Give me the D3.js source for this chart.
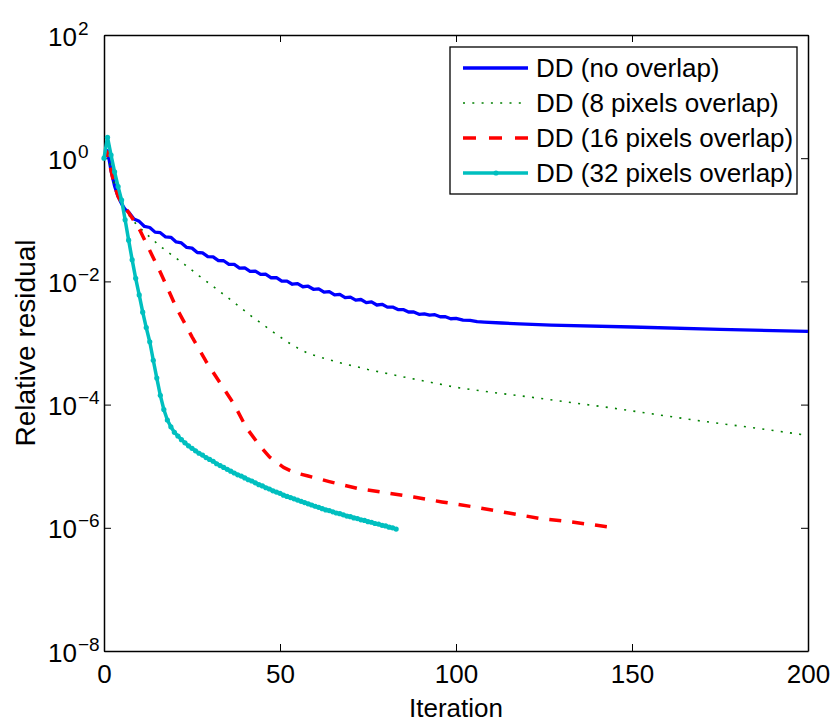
<!DOCTYPE html>
<html>
<head>
<meta charset="utf-8">
<script src="https://cdn.jsdelivr.net/npm/d3@7"></script>
<style>
  body { margin: 0; background: #fff; }
  text { font-family: "Liberation Sans", Arial, Helvetica, sans-serif; fill: #000; }
</style>
</head>
<body>
<svg id="chart" width="832" height="722"></svg>
<script>
// tick values
const xTicks = [0, 50, 100, 150, 200];
const yTickExps = [2, 0, -2, -4, -6, -8];
const legendLabels = ["DD (no overlap)", "DD (8 pixels overlap)", "DD (16 pixels overlap)", "DD (32 pixels overlap)"];

// series: [iteration, log10(relative residual)]
const noOverlap = [
  [0, 0], [1, 0.12], [2, -0.2], [3, -0.45], [4, -0.62], [5, -0.74], [6, -0.83], [7, -0.875],
  [8.5, -0.988], [10, -1.025], [11.5, -1.108], [13, -1.125], [14.5, -1.2], [16, -1.21],
  [17.5, -1.278], [19, -1.285], [20.5, -1.36], [22, -1.375], [23.5, -1.449], [25, -1.46],
  [26.5, -1.531], [28, -1.537], [29.5, -1.599], [31, -1.602], [32.5, -1.664], [34, -1.665],
  [35.5, -1.725], [37, -1.725], [38.5, -1.785], [40, -1.782], [41.5, -1.837], [43, -1.832],
  [44.5, -1.887], [46, -1.884], [47.5, -1.941], [49, -1.939], [50.5, -1.997], [52, -1.995],
  [53.5, -2.046], [55, -2.036], [56.5, -2.087], [58, -2.078], [59.5, -2.128], [61, -2.12],
  [62.5, -2.173], [64, -2.165], [65.5, -2.218], [67, -2.21], [68.5, -2.263], [70, -2.255],
  [71.5, -2.305], [73, -2.294], [74.5, -2.344], [76, -2.333], [77.5, -2.383], [79, -2.372],
  [80.5, -2.417], [82, -2.417], [83.5, -2.457], [85, -2.457], [86.5, -2.497], [88, -2.497],
  [89.5, -2.534], [91, -2.526], [92.5, -2.549], [94, -2.541], [95.5, -2.574], [97, -2.573],
  [98.5, -2.606], [100, -2.6], [102, -2.628], [104, -2.632], [106, -2.653], [108, -2.66],
  [113, -2.675], [118, -2.69], [127, -2.71], [150, -2.74], [175, -2.78], [200, -2.81]
];

const overlap8 = [
  [0, 0], [1, 0.1], [2, -0.2], [3, -0.45], [4, -0.62], [5, -0.75], [7, -0.92], [8, -1.0],
  [10, -1.12], [13, -1.28], [16, -1.43], [19, -1.56], [23, -1.73], [27, -1.91], [31, -2.08],
  [36, -2.3], [42, -2.57], [48, -2.82], [52, -2.98], [55, -3.08], [58, -3.17], [62, -3.24],
  [67, -3.32], [75, -3.43], [85, -3.55], [93, -3.64], [100, -3.72], [110, -3.8], [120, -3.87],
  [130, -3.945], [145, -4.06], [158, -4.17], [170, -4.27], [185, -4.38], [200, -4.5]
];

const overlap16 = [
  [0, 0], [1, 0.1], [2, -0.2], [3, -0.45], [4, -0.62], [5, -0.73], [6.5, -0.84], [8, -0.97],
  [10.2, -1.17], [13, -1.5], [16, -1.85], [20.5, -2.42], [25, -2.9], [29, -3.3], [33, -3.65],
  [37, -4.0], [40.5, -4.38], [44, -4.65], [47, -4.85], [51, -5.02], [54, -5.1], [58, -5.16],
  [64, -5.25], [72, -5.36], [80, -5.43], [88, -5.5], [96, -5.58], [105, -5.66], [115, -5.76],
  [124, -5.85], [132, -5.9], [140, -5.96], [145, -6.0]
];

// one value per iteration 0..83
const overlap32 = [
  0, 0.34, 0.05, -0.22, -0.46, -0.68, -1.0, -1.33, -1.65, -1.95,
  -2.22, -2.5, -2.75, -2.98, -3.28, -3.57, -3.85, -4.08, -4.25, -4.36,
  -4.45, -4.51, -4.57, -4.62, -4.67, -4.71, -4.75, -4.79, -4.82, -4.86,
  -4.89, -4.92, -4.96, -4.99, -5.02, -5.05, -5.08, -5.11, -5.14, -5.16,
  -5.19, -5.22, -5.24, -5.27, -5.3, -5.32, -5.35, -5.37, -5.4, -5.42,
  -5.44, -5.47, -5.49, -5.51, -5.53, -5.55, -5.57, -5.59, -5.61, -5.63,
  -5.65, -5.67, -5.69, -5.71, -5.72, -5.74, -5.76, -5.77, -5.79, -5.81,
  -5.82, -5.84, -5.85, -5.87, -5.88, -5.9, -5.91, -5.93, -5.94, -5.96,
  -5.97, -5.99, -6.0, -6.02
];

const margin = { left: 104, right: 808, top: 35, bottom: 651 };
const svg = d3.select("#chart");

const x = d3.scaleLinear().domain([0, 200]).range([margin.left, margin.right]);
const y = d3.scaleLog().domain([1e-8, 1e2]).range([margin.bottom, margin.top]);

const styles = [
  { color: "#0000ff", width: 3.3, dash: null },
  { color: "#008000", width: 1.6, dash: "2,7.3" },
  { color: "#ff0000", width: 3.5, dash: "12,11" },
  { color: "#00bfbf", width: 3.5, dash: null }
];

// axes (MATLAB box with inward ticks)
const yVals = yTickExps.map(e => Math.pow(10, e));

const gx = svg.append("g")
  .attr("transform", "translate(0," + margin.bottom + ")")
  .call(d3.axisBottom(x).tickValues(xTicks).tickSizeInner(-7).tickSizeOuter(0).tickPadding(13.5));
gx.selectAll("text").style("font-size", "26px");

svg.append("g")
  .attr("transform", "translate(0," + margin.top + ")")
  .call(d3.axisTop(x).tickValues(xTicks).tickSizeInner(-7).tickSizeOuter(0).tickFormat(""));

const gy = svg.append("g")
  .attr("transform", "translate(" + margin.left + ",0)")
  .call(d3.axisLeft(y).tickValues(yVals).tickSizeInner(-7).tickSizeOuter(0).tickFormat(""));

svg.append("g")
  .attr("transform", "translate(" + margin.right + ",0)")
  .call(d3.axisRight(y).tickValues(yVals).tickSizeInner(-7).tickSizeOuter(0).tickFormat(""));

svg.selectAll(".domain").attr("stroke", "#000").attr("stroke-width", 1.5);
svg.selectAll(".tick line").attr("stroke", "#000").attr("stroke-width", 1);

gy.selectAll(".tick").each(function (d) {
  const t = d3.select(this).select("text")
    .attr("x", 77 - margin.left)
    .attr("dy", null)
    .attr("y", 10)
    .attr("text-anchor", "end")
    .style("font-size", "26px");
  t.text("10");
  const e = Math.round(Math.log10(d));
  d3.select(this).append("text")
    .attr("x", 78 - margin.left)
    .attr("y", -1)
    .attr("text-anchor", "start")
    .style("font-size", "19px")
    .text(e < 0 ? "\u2212" + (-e) : String(e));
});

// axis labels
svg.append("text")
  .attr("x", 456).attr("y", 717)
  .attr("text-anchor", "middle")
  .style("font-size", "26px")
  .text("Iteration");

svg.append("text")
  .attr("transform", "translate(35," + ((margin.top + margin.bottom) / 2) + ") rotate(-90)")
  .attr("text-anchor", "middle")
  .style("font-size", "28px")
  .text("Relative residual");

// lines
const line = d3.line()
  .x(d => x(d[0]))
  .y(d => y(Math.pow(10, d[1])));

const series = [noOverlap, overlap8, overlap16, overlap32.map((v, i) => [i, v])];

const plot = svg.append("g");
series.forEach((data, i) => {
  const s = styles[i];
  plot.append("path")
    .datum(data)
    .attr("fill", "none")
    .attr("stroke", s.color)
    .attr("stroke-width", s.width)
    .attr("stroke-dasharray", s.dash)
    .attr("stroke-linejoin", "round")
    .attr("d", line);
});

plot.selectAll("circle.mk")
  .data(series[3])
  .enter()
  .append("circle")
  .attr("class", "mk")
  .attr("cx", d => x(d[0]))
  .attr("cy", d => y(Math.pow(10, d[1])))
  .attr("r", 2.6)
  .attr("fill", styles[3].color);

// legend
const lg = svg.append("g");
lg.append("rect")
  .attr("x", 450).attr("y", 47)
  .attr("width", 347).attr("height", 147)
  .attr("fill", "#fff")
  .attr("stroke", "#000")
  .attr("stroke-width", 1.3);

legendLabels.forEach((label, i) => {
  const ry = 68 + i * 35;
  const s = styles[i];
  lg.append("line")
    .attr("x1", 463).attr("x2", 528)
    .attr("y1", ry).attr("y2", ry)
    .attr("stroke", s.color)
    .attr("stroke-width", s.width)
    .attr("stroke-dasharray", i === 2 ? "13,13" : s.dash);
  if (i === 3) {
    lg.append("circle").attr("cx", 496).attr("cy", ry).attr("r", 2.6).attr("fill", s.color);
  }
  lg.append("text")
    .attr("x", 536).attr("y", ry + 9)
    .style("font-size", "26px")
    .text(label);
});
</script>
</body>
</html>
